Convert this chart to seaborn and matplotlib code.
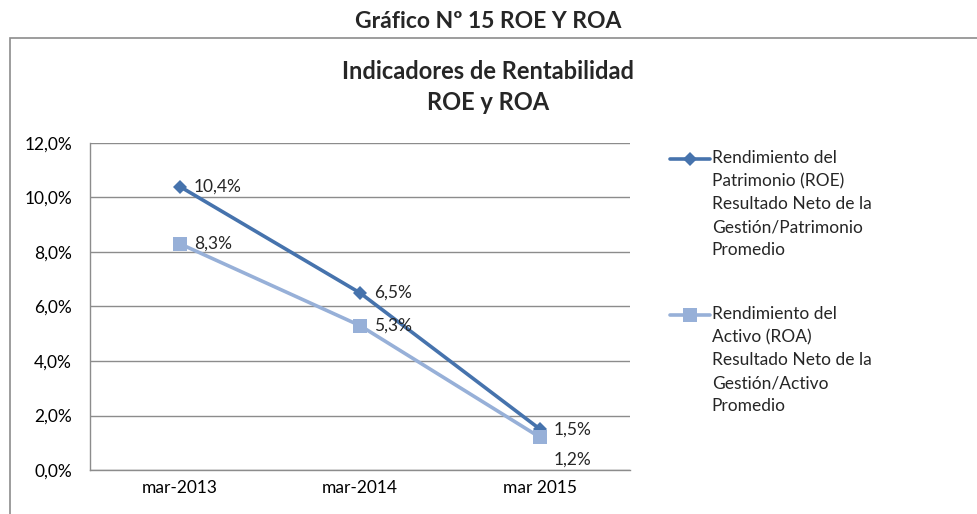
import numpy as np
import pandas as pd
import matplotlib
matplotlib.use("Agg")
import matplotlib.pyplot as plt
from matplotlib.patches import Rectangle
from matplotlib.legend_handler import HandlerLine2D
import seaborn as sns

periodos = ["mar-2013", "mar-2014", "mar 2015"]
roe = [10.4, 6.5, 1.5]
roa = [8.3, 5.3, 1.2]
etiqueta_roe = ("Rendimiento del\nPatrimonio (ROE)\nResultado Neto de la\n"
                "Gestión/Patrimonio\nPromedio")
etiqueta_roa = ("Rendimiento del\nActivo (ROA)\nResultado Neto de la\n"
                "Gestión/Activo\nPromedio")

df = pd.DataFrame({
    "periodo": periodos * 2,
    "valor": roe + roa,
    "serie": [etiqueta_roe] * 3 + [etiqueta_roa] * 3,
})

sns.set_theme(style="white")
plt.rcParams["font.family"] = ["Lato", "DejaVu Sans"]

col_roe = "#4673AD"
col_roa = "#97B0D8"
fs = 12.5

fig = plt.figure(figsize=(9.77, 5.14), dpi=100)
ax = fig.add_axes([0.0921, 0.0856, 0.5527, 0.6362])

sns.lineplot(data=df, x="periodo", y="valor", hue="serie", style="serie",
             palette={etiqueta_roe: col_roe, etiqueta_roa: col_roa},
             markers={etiqueta_roe: "D", etiqueta_roa: "s"}, dashes=False,
             linewidth=2.6, markeredgewidth=0, ax=ax, sort=False)
for ln in ax.get_lines():
    if ln.get_marker() == "D":
        ln.set_markersize(7.5)
    elif ln.get_marker() == "s":
        ln.set_markersize(10)

ax.set_ylim(0, 12)
ax.set_xlim(-0.5, 2.5)
ax.set_yticks(np.arange(0, 12.1, 2))
ax.set_yticklabels([f"{v:.1f}%".replace(".", ",") for v in np.arange(0, 12.1, 2)])
ax.yaxis.grid(True, color="#8c8c8c", linewidth=1)
ax.set_axisbelow(True)
ax.set_xlabel("")
ax.set_ylabel("")
for s in ["top", "right"]:
    ax.spines[s].set_visible(False)
for s in ["left", "bottom"]:
    ax.spines[s].set_color("#8c8c8c")
    ax.spines[s].set_linewidth(1)
ax.tick_params(axis="y", length=0, pad=13, labelsize=fs, colors="black")
ax.tick_params(axis="x", length=0, pad=7, labelsize=fs, colors="black")

# etiquetas de datos
for i, v in enumerate(roe):
    ax.annotate(f"{v:.1f}%".replace(".", ","), (i, v), xytext=(10, 0),
                textcoords="offset points", ha="left", va="center", fontsize=fs)
for i, v in enumerate(roa):
    off = (10, -16) if i == 2 else (10, 0)
    ax.annotate(f"{v:.1f}%".replace(".", ","), (i, v), xytext=off,
                textcoords="offset points", ha="left", va="center", fontsize=fs)


class PrimeraLinea(HandlerLine2D):
    # alinea el símbolo con la primera línea del texto
    def create_artists(self, legend, orig_handle, xdescent, ydescent,
                       width, height, fontsize, trans):
        arts = super().create_artists(legend, orig_handle, xdescent, ydescent,
                                      width, height, fontsize, trans)
        shift = 2 * 23 * 0.72
        for a in arts:
            a.set_ydata(np.asarray(a.get_ydata()) + shift)
        return arts


handles, labels = ax.get_legend_handles_labels()
ax.get_legend().remove()
leg = fig.legend(handles, labels, loc="upper left",
                 bbox_to_anchor=(670 / 977, 1 - 150 / 514),
                 frameon=False, fontsize=fs, handlelength=2.3,
                 handletextpad=0.1, borderpad=0, borderaxespad=0,
                 labelspacing=2.75,
                 handler_map={h: PrimeraLinea() for h in handles})
for t in leg.get_texts():
    t.set_linespacing(1.54)

fig.text(0.5, 1 - 22 / 514, "Gráfico Nº 15 ROE Y ROA", ha="center",
         va="center", fontsize=16.5, fontweight="bold")
fig.text(0.5, 1 - 87 / 514, "Indicadores de Rentabilidad\nROE y ROA",
         ha="center", va="center", fontsize=17, fontweight="bold",
         linespacing=1.4)

fig.patches.append(Rectangle((10 / 977, -0.05), 1.0, 1 - 38 / 514 + 0.05,
                             transform=fig.transFigure, fill=False,
                             edgecolor="#8c8c8c", linewidth=1.2))

fig.savefig("out.png", dpi=100)
